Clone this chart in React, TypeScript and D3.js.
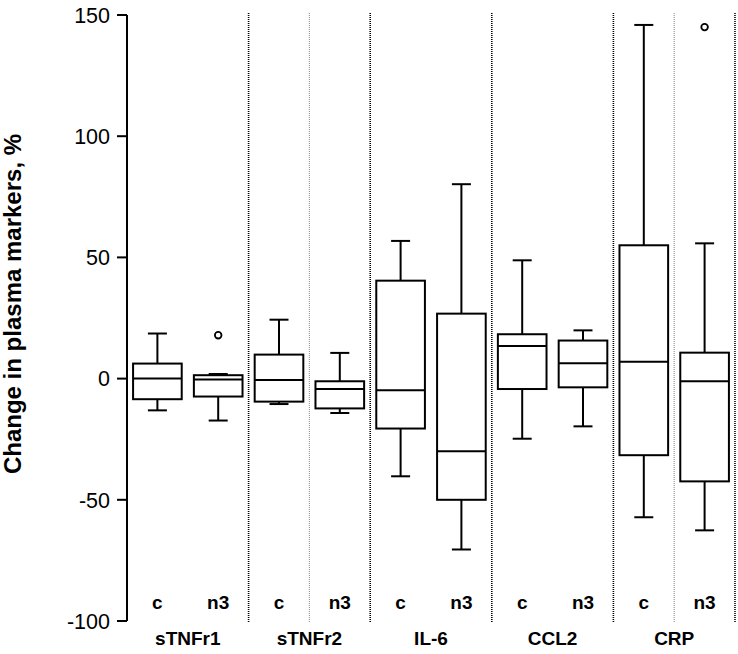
import React from "react";
import * as d3 from "d3";

const markers = ["sTNFr1", "sTNFr2", "IL-6", "CCL2", "CRP"];
const diets = ["c", "n3"];
// order: sTNFr1 c, sTNFr1 n3, sTNFr2 c, sTNFr2 n3, IL-6 c, IL-6 n3, CCL2 c, CCL2 n3, CRP c, CRP n3
const whiskerLow = [-13.1, -17.3, -10.5, -14.2, -40.3, -70.5, -24.8, -19.7, -57.2, -62.6];
const q1 = [-8.5, -7.4, -9.5, -12.3, -20.6, -50, -4.3, -3.6, -31.6, -42.4];
const median = [0, -0.4, -0.6, -4.3, -4.8, -30, 13.5, 6.3, 7, -1.1];
const q3 = [6.2, 1.4, 9.9, -1.1, 40.4, 26.8, 18.3, 15.7, 55, 10.7];
const whiskerHigh = [18.6, 1.9, 24.3, 10.6, 56.8, 80.2, 48.8, 19.9, 145.9, 55.8];
const outlierSlot = [1, 9];
const outlierValue = [17.9, 145];
const yTicks = [-100, -50, 0, 50, 100, 150];
const lightSeparatorMarkers = ["sTNFr2", "CRP"];

const W = 738;
const H = 654;
const X0 = 127;
const X1 = 735;
const font = "'Liberation Sans', Arial, sans-serif";

export default function App() {
  const slots = markers.flatMap((m) => diets.map((d) => `${m}|${d}`));
  const x = d3.scaleBand<string>().domain(slots).range([X0, X1]).padding(0);
  const y = d3.scaleLinear().domain([-100, 150]).range([621, 15]);
  const bw = x.bandwidth();
  const boxW = bw * 0.8;
  const capW = 19;
  const groupW = bw * 2;

  const darkSeps = markers.map((m) => (x(`${m}|n3`) as number) + bw);
  const lightSeps = lightSeparatorMarkers.map((m) => x(`${m}|n3`) as number);

  return (
    <svg width={W} height={H} style={{ position: "absolute", left: 0, top: 0 }} fontFamily={font}>
      <rect width={W} height={H} fill="#fff" />
      {/* separators */}
      {darkSeps.map((sx, i) => (
        <line key={`d${i}`} x1={sx} x2={sx} y1={13} y2={622} stroke="#000" strokeWidth={1.6} strokeDasharray="1,1" />
      ))}
      {lightSeps.map((sx, i) => (
        <line key={`l${i}`} x1={sx} x2={sx} y1={13} y2={622} stroke="#999" strokeWidth={1.2} strokeDasharray="1,1" />
      ))}
      {/* y axis */}
      <line x1={X0} x2={X0} y1={y(150)} y2={y(-100)} stroke="#000" strokeWidth={2} />
      {yTicks.map((t) => (
        <g key={t}>
          <line x1={X0 - 10} x2={X0} y1={y(t)} y2={y(t)} stroke="#000" strokeWidth={2} />
          <text x={X0 - 17} y={y(t)} dy="0.36em" textAnchor="end" fontSize={21.5} fill="#000">
            {t}
          </text>
        </g>
      ))}
      <text
        transform={`translate(21,304) rotate(-90)`}
        textAnchor="middle"
        fontSize={24}
        fontWeight="bold"
        fill="#000"
      >
        Change in plasma markers, %
      </text>
      {/* boxes */}
      {slots.map((s, i) => {
        const cx = (x(s) as number) + bw / 2;
        return (
          <g key={s} stroke="#000" strokeWidth={2} fill="none">
            <line x1={cx} x2={cx} y1={y(whiskerHigh[i])} y2={y(q3[i])} />
            <line x1={cx} x2={cx} y1={y(q1[i])} y2={y(whiskerLow[i])} />
            <line x1={cx - capW / 2} x2={cx + capW / 2} y1={y(whiskerHigh[i])} y2={y(whiskerHigh[i])} />
            <line x1={cx - capW / 2} x2={cx + capW / 2} y1={y(whiskerLow[i])} y2={y(whiskerLow[i])} />
            <rect x={cx - boxW / 2} y={y(q3[i])} width={boxW} height={y(q1[i]) - y(q3[i])} fill="#fff" />
            <line x1={cx - boxW / 2} x2={cx + boxW / 2} y1={y(median[i])} y2={y(median[i])} />
          </g>
        );
      })}
      {outlierSlot.map((si, i) => (
        <circle
          key={`o${i}`}
          cx={(x(slots[si]) as number) + bw / 2}
          cy={y(outlierValue[i])}
          r={3.3}
          fill="#fff"
          stroke="#000"
          strokeWidth={1.8}
        />
      ))}
      {/* category labels */}
      {slots.map((s) => (
        <text
          key={`t${s}`}
          x={(x(s) as number) + bw / 2}
          y={609}
          textAnchor="middle"
          fontSize={19}
          fontWeight="bold"
          fill="#000"
        >
          {s.split("|")[1]}
        </text>
      ))}
      {markers.map((m) => (
        <text
          key={`m${m}`}
          x={(x(`${m}|c`) as number) + groupW / 2}
          y={645}
          textAnchor="middle"
          fontSize={19}
          fontWeight="bold"
          fill="#000"
        >
          {m}
        </text>
      ))}
    </svg>
  );
}
